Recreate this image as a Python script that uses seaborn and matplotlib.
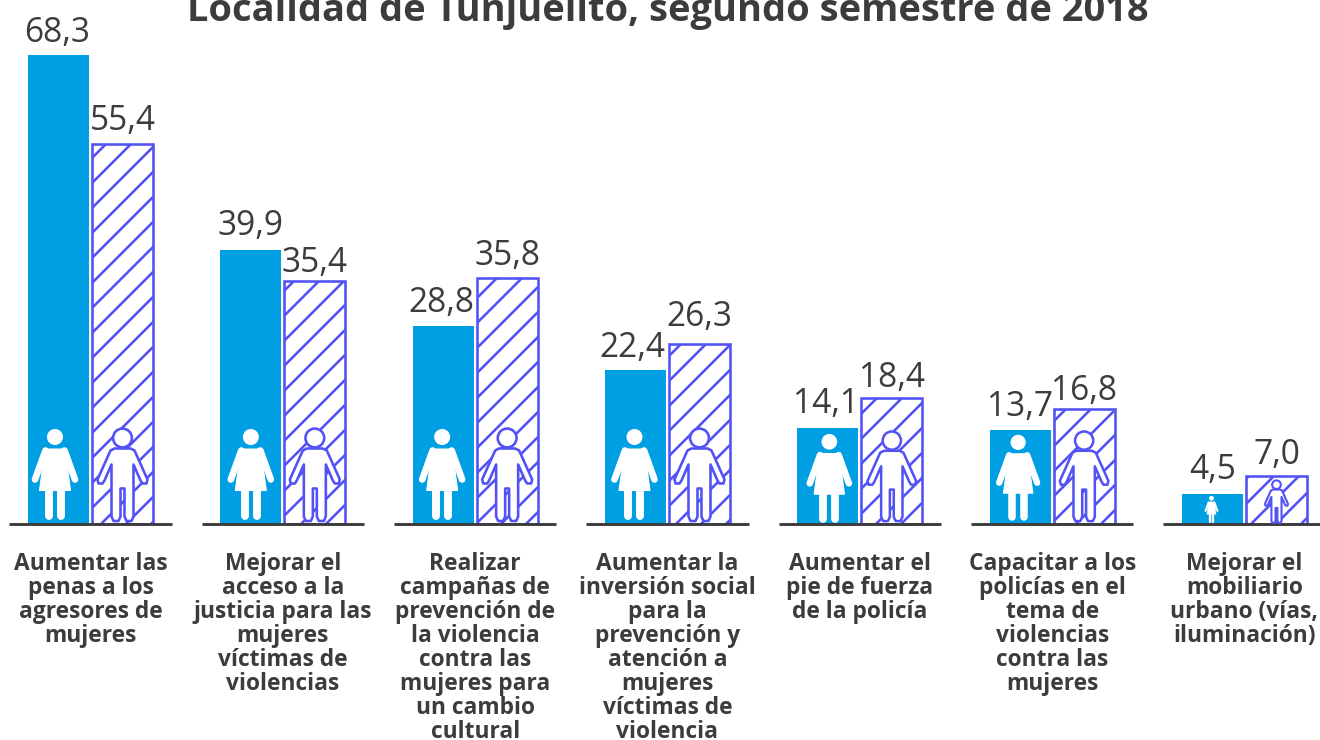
import seaborn as sns
import pandas as pd
import matplotlib.pyplot as plt
from matplotlib.path import Path
from matplotlib.patches import PathPatch, Circle
from matplotlib.transforms import Affine2D

categorias = ['Aumentar las\npenas a los\nagresores de\nmujeres',
              'Mejorar el\nacceso a la\njusticia para las\nmujeres\nvíctimas de\nviolencias',
              'Realizar\ncampañas de\nprevención de\nla violencia\ncontra las\nmujeres para\nun cambio\ncultural',
              'Aumentar la\ninversión social\npara la\nprevención y\natención a\nmujeres\nvíctimas de\nviolencia',
              'Aumentar el\npie de fuerza\nde la policía',
              'Capacitar a los\npolicías en el\ntema de\nviolencias\ncontra las\nmujeres',
              'Mejorar el\nmobiliario\nurbano (vías,\niluminación)']
mujeres = [68.3, 39.9, 28.8, 22.4, 14.1, 13.7, 4.5]
hombres = [55.4, 35.4, 35.8, 26.3, 18.4, 16.8, 7.0]
titulo = 'Localidad de Tunjuelito, segundo semestre de 2018'

AZUL = '#009FE3'
MORADO = '#5252F5'
GRIS = '#3C3C3C'

sns.set_style('white')
plt.rcParams['font.family'] = ['Open Sans', 'DejaVu Sans']
plt.rcParams['hatch.linewidth'] = 1.25

df = pd.DataFrame({'cat': list(range(7)) * 2,
                   'sexo': ['M'] * 7 + ['H'] * 7,
                   'valor': mujeres + hombres})

fig = plt.figure(figsize=(8.8, 4.934), dpi=150)
ax = fig.add_axes([0, 215.5 / 740, 1, 524.5 / 740])
sns.barplot(data=df, x='cat', y='valor', hue='sexo', hue_order=['M', 'H'], order=list(range(7)),
            width=0.6655, gap=0.047, dodge=True, legend=False, ax=ax, errorbar=None)

barras = ax.containers
for r in barras[0]:
    r.set(facecolor=AZUL, edgecolor='none', linewidth=0)
for r in barras[1]:
    r.set(facecolor='white', edgecolor=MORADO, linewidth=1.25, hatch='//')

ax.set_xlim(-90.5 / 192.33, (1320 - 90.5) / 192.33)
ax.set_ylim(0, 524.5 / 6.874)
sns.despine(ax=ax, left=True, bottom=True, top=True, right=True)
ax.set_xlabel('')
ax.set_ylabel('')
ax.set_yticks([])
ax.set_xticks(range(7))
ax.set_xticklabels(categorias, fontsize=10.9, fontweight='bold', color=GRIS, linespacing=1.0)
ax.tick_params(axis='x', length=0, pad=13.2)
ax.grid(False)

grupos = list(range(7))
ax.hlines([0] * 7, [i - 0.4214 for i in grupos], [i + 0.4214 for i in grupos],
          color=GRIS, lw=1.4, clip_on=False, zorder=5)

# ajustes a mano de las etiquetas, en px
ajuste_m = [(-1, -1), (0, 1), (-2, 0), (-3, -1), (-2, 0), (0, 0), (0, 0)]
ajuste_h = [(0, -1), (0, -5), (0, -1), (0, 4), (0, -3), (0, -5), (0, -2)]
for cont, vals, ajustes in zip(barras, [mujeres, hombres], [ajuste_m, ajuste_h]):
    for r, v, (dx, dy) in zip(cont, vals, ajustes):
        ax.annotate(f'{v:.1f}'.replace('.', ','), (r.get_x() + r.get_width() / 2, v),
                    xytext=(dx * 0.48, 3 + dy * 0.48), textcoords='offset points', ha='center', va='bottom',
                    fontsize=16.1, color=GRIS)

fig.text(668 / 1320, 1 - 21 / 740, titulo, ha='center', va='baseline',
         fontsize=18.26, fontweight='bold', color=GRIS)

# iconos: coordenadas locales en px, y hacia arriba desde el eje
vestido = Path([(-10, 75.5), (10, 75.5), (15.5, 34), (-15.5, 34), (-10, 75.5)], [1, 2, 2, 2, 79])
silueta = Path([(-8, 76), (8, 76), (12, 74), (25, 45), (24, 41), (20, 41), (18, 44), (11, 60), (11, 8), (9, 3.5),
                (4, 3.5), (2, 8), (2, 36), (-2, 36), (-2, 8), (-4, 3.5), (-9, 3.5), (-11, 8), (-11, 60),
                (-18, 44), (-20, 41), (-24, 41), (-25, 45), (-12, 74), (-8, 76)],
               [1] + [2] * 23 + [79])


def mujer(e):
    partes = [PathPatch(vestido, fc='white', ec='white', lw=0.5 * e, joinstyle='round'),
              Circle((0, 87.5), 8, fc='white', ec='none')]
    for x0, x1, y0, y1, grosor in [(-9.5, -20, 74, 45, 3.2), (9.5, 20, 74, 45, 3.2),
                                   (-6, -6, 34, 9, 3.8), (6, 6, 34, 9, 3.8)]:
        partes.append(PathPatch(Path([(x0, y0), (x1, y1)]), ec='white', fc='none', lw=grosor * e, capstyle='round'))
    return partes


def varon(e):
    return [PathPatch(silueta, fc='white', ec=MORADO, lw=1.25 * max(e, 0.8), joinstyle='round'),
            Circle((0, 86.5), 9.4, fc='white', ec=MORADO, lw=1.25 * max(e, 0.8))]


def colocar(barra, escala, dx, dy, dibujo):
    x = ax.transData.transform((barra.get_x() + barra.get_width() / 2, 0))[0]
    trans = Affine2D().scale(escala).translate(x + dx, 215.5 + dy)
    for p in dibujo(escala):
        p.set_transform(trans)
        p.set_clip_on(False)
        p.set_zorder(6)
        ax.add_patch(p)


escalas_m = [1, 1, 1, 1, 0.98, 0.95, 0.3]
corr_x_m = [-3.5, 0, -1, -1, 1.5, -2, -1]
corr_y_m = [0, 0, 0, 0, -3, -1, 0]
escalas_h = [1, 1, 1, 1, 0.97, 0.97, 0.46]
for cm, ch, em, xm, ym, eh in zip(barras[0], barras[1], escalas_m, corr_x_m, corr_y_m, escalas_h):
    colocar(cm, em, xm, ym, mujer)
    colocar(ch, eh, 0, 0, varon)

fig.savefig('out.png', dpi=150)
